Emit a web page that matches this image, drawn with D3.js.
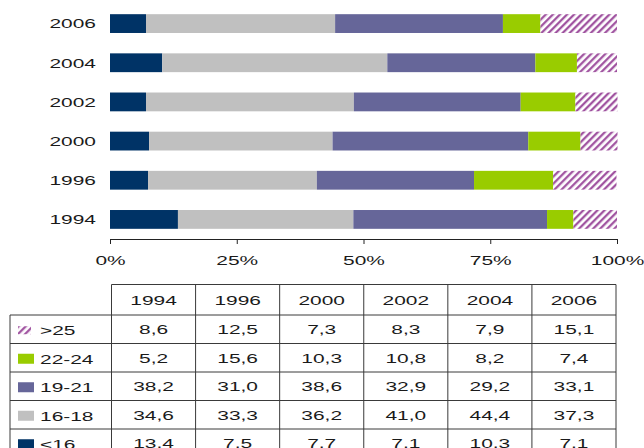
<!DOCTYPE html>
<html>
<head>
<meta charset="utf-8">
<script src="https://cdn.jsdelivr.net/npm/d3@7"></script>
<style>
  html, body { margin: 0; padding: 0; background: #fff; }
  svg { display: block; }
  text { font-family: "Liberation Sans", Arial, sans-serif; fill: #1a1a1a; }
</style>
</head>
<body>
<svg id="chart" width="644" height="448"></svg>
<script>
// Survey years, in table order
const years = ["1994", "1996", "2000", "2002", "2004", "2006"];

// Share per age group (%), one value per year
const under16   = [13.4, 7.5, 7.7, 7.1, 10.3, 7.1];
const age16to18 = [34.6, 33.3, 36.2, 41.0, 44.4, 37.3];
const age19to21 = [38.2, 31.0, 38.6, 32.9, 29.2, 33.1];
const age22to24 = [5.2, 15.6, 10.3, 10.8, 8.2, 7.4];
const over25    = [8.6, 12.5, 7.3, 8.3, 7.9, 15.1];

// Group labels and axis ticks
const groupLabels = ["<16", "16-18", "19-21", "22-24", ">25"];
const tickValues = [0, 25, 50, 75, 100];

const groupValues = [under16, age16to18, age19to21, age22to24, over25];
const groupColors = ["#003366", "#c0c0c0", "#666699", "#99cc00", "url(#hatch)"];

const rows = years.map((y, i) => {
  const r = { year: y };
  groupLabels.forEach((g, k) => { r[g] = groupValues[k][i]; });
  return r;
});

const svg = d3.select("#chart");
const SX = 1.55;     // wide lettering
const FS = 13.5;

// Diagonal hatch used for the oldest group
const defs = svg.append("defs");
defs.append("pattern")
  .attr("id", "hatch")
  .attr("patternUnits", "userSpaceOnUse")
  .attr("width", 5).attr("height", 5)
  .attr("patternTransform", "rotate(45)")
  .call(p => {
    p.append("rect").attr("width", 5).attr("height", 5).attr("fill", "#fff");
    p.append("line").attr("x1", 1.2).attr("y1", 0).attr("x2", 1.2).attr("y2", 5)
      .attr("stroke", "#9c4c9c").attr("stroke-width", 2.2);
  });

// Scales
const x = d3.scaleLinear().domain([0, 100]).range([110, 617]);
const y = d3.scaleBand().domain(years.slice().reverse())
  .range([4, 239]).paddingInner(0.52).paddingOuter(0.26);

const stack = d3.stack().keys(groupLabels);
const series = stack(rows);

// Stacked bars
svg.append("g").selectAll("g")
  .data(series).join("g")
  .attr("fill", (d, i) => groupColors[i])
  .selectAll("rect")
  .data(d => d).join("rect")
  .attr("x", d => x(d[0]))
  .attr("y", d => y(d.data.year))
  .attr("width", d => x(d[1]) - x(d[0]))
  .attr("height", y.bandwidth());

// Year labels
svg.append("g").selectAll("text")
  .data(years).join("text")
  .attr("text-anchor", "end")
  .attr("dy", "0.36em")
  .attr("font-size", FS)
  .attr("transform", d => `translate(96,${y(d) + y.bandwidth() / 2}) scale(${SX},1)`)
  .text(d => d);

// Percent axis
const axis = svg.append("g")
  .attr("transform", "translate(0,239)")
  .call(d3.axisBottom(x).tickValues(tickValues).tickSize(5).tickSizeOuter(0)
    .tickFormat(d => d + "%"));
axis.select(".domain").attr("stroke", "#222");
axis.selectAll(".tick line").attr("stroke", "#222");
axis.selectAll(".tick text")
  .attr("font-family", null)
  .attr("font-size", FS)
  .attr("fill", "#1a1a1a")
  .attr("y", 21).attr("dy", "0.36em")
  .attr("transform", `scale(${SX},1)`);

// Data table
const colX = d3.scaleBand().domain(years).range([111.5, 616]);
const tableRows = groupLabels.slice().reverse();   // >25 on top
const headTop = 284.5, headBot = 315, rowH = 28.5;
const rowY = d3.scaleBand().domain(tableRows)
  .range([headBot, headBot + rowH * tableRows.length]);

const locale = d3.formatLocale({ decimal: ",", thousands: ".", grouping: [3], currency: ["", ""] });
const fmt = locale.format(".1f");

const table = svg.append("g");
const lineColor = "#3a3a3a";

// Grid lines
table.append("line").attr("x1", colX.range()[0]).attr("x2", 616)
  .attr("y1", headTop).attr("y2", headTop).attr("stroke", lineColor);
table.selectAll(".hline").data(tableRows).join("line")
  .attr("x1", 10).attr("x2", 616)
  .attr("y1", d => rowY(d)).attr("y2", d => rowY(d))
  .attr("stroke", lineColor);
table.append("line").attr("x1", 10).attr("x2", 10)
  .attr("y1", headBot).attr("y2", 460).attr("stroke", lineColor);
table.selectAll(".vline").data(years.concat(["end"])).join("line")
  .attr("x1", (d, i) => colX.range()[0] + i * colX.bandwidth())
  .attr("x2", (d, i) => colX.range()[0] + i * colX.bandwidth())
  .attr("y1", headTop).attr("y2", 460)
  .attr("stroke", lineColor);

// Header years
table.selectAll(".head").data(years).join("text")
  .attr("text-anchor", "middle").attr("dy", "0.36em")
  .attr("font-size", FS)
  .attr("transform", d => `translate(${colX(d) + colX.bandwidth() / 2},${(headTop + headBot) / 2}) scale(${SX},1)`)
  .text(d => d);

// Legend cells
const legend = table.selectAll(".legend").data(tableRows).join("g")
  .attr("transform", d => `translate(0,${rowY(d) + rowY.bandwidth() / 2})`);
legend.append("rect")
  .attr("x", 18).attr("y", d => d === ">25" ? -3 : -4)
  .attr("width", d => d === ">25" ? 13 : 16)
  .attr("height", d => d === ">25" ? 8 : 10)
  .attr("fill", d => groupColors[groupLabels.indexOf(d)]);
legend.append("text")
  .attr("dy", "0.36em").attr("font-size", FS)
  .attr("transform", `translate(40,1) scale(${SX},1)`)
  .text(d => d);

// Value cells
tableRows.forEach(g => {
  const vals = groupValues[groupLabels.indexOf(g)];
  table.selectAll(null).data(years).join("text")
    .attr("text-anchor", "middle").attr("dy", "0.36em")
    .attr("font-size", FS)
    .attr("transform", (d, i) => `translate(${colX(d) + colX.bandwidth() / 2},${rowY(g) + rowY.bandwidth() / 2}) scale(${SX},1)`)
    .text((d, i) => fmt(vals[i]));
});
</script>
</body>
</html>
